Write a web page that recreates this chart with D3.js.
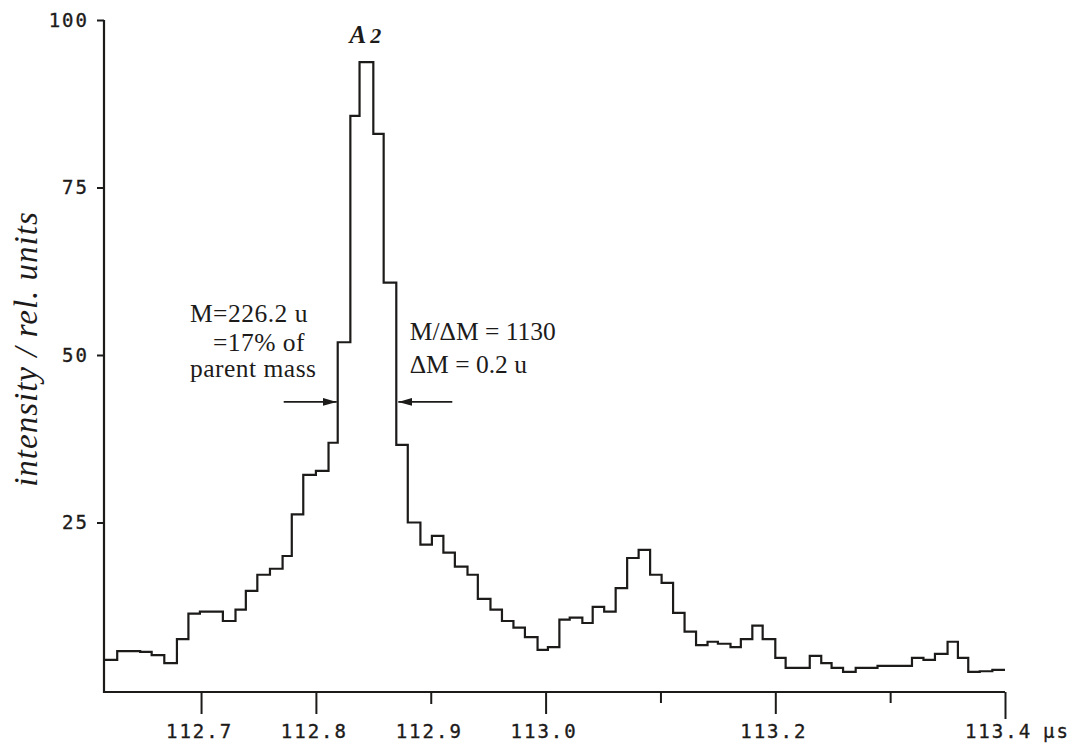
<!DOCTYPE html>
<html><head><meta charset="utf-8">
<script src="https://cdn.jsdelivr.net/npm/d3@7"></script>
<style>
html,body{margin:0;padding:0;background:#fff;}
svg{display:block;}
</style></head><body>
<svg id="chart" width="1073" height="745"></svg>
<script>
// Start time of each time-of-flight channel (µs); the last entry closes the final channel
const channelTimes = [
  112.616, 112.627, 112.636, 112.647, 112.657, 112.668, 112.679, 112.689, 112.699, 112.710,
  112.719, 112.730, 112.739, 112.749, 112.760, 112.771, 112.779, 112.789, 112.800, 112.811,
  112.819, 112.830, 112.838, 112.850, 112.859, 112.870, 112.880, 112.891, 112.901, 112.911,
  112.921, 112.932, 112.941, 112.952, 112.962, 112.972, 112.982, 112.993, 113.002, 113.012,
  113.021, 113.032, 113.041, 113.051, 113.061, 113.071, 113.081, 113.091, 113.101, 113.111,
  113.121, 113.131, 113.141, 113.150, 113.161, 113.170, 113.180, 113.189, 113.200, 113.209,
  113.220, 113.230, 113.240, 113.249, 113.259, 113.270, 113.279, 113.289, 113.299, 113.309,
  113.319, 113.329, 113.339, 113.350, 113.359, 113.368, 113.378, 113.389, 113.400
];
// Intensity per channel (rel. units)
const intensity = [
  4.5, 5.8, 5.8, 5.7, 5.2, 4.0, 7.6, 11.4, 11.7, 11.7,
  10.3, 12.0, 14.8, 17.2, 18.1, 20.0, 26.2, 32.1, 32.7, 36.9,
  51.9, 85.7, 93.7, 83.0, 60.8, 36.6, 25.0, 21.7, 23.0, 20.5,
  18.4, 17.2, 13.6, 12.0, 10.3, 9.3, 7.9, 6.0, 6.4, 10.5,
  10.8, 10.0, 12.4, 11.7, 15.2, 19.7, 20.9, 17.2, 16.0, 11.5,
  8.7, 6.7, 7.2, 6.9, 6.4, 7.6, 9.6, 7.6, 4.8, 3.3,
  3.3, 5.1, 4.0, 3.3, 2.7, 3.3, 3.3, 3.6, 3.6, 3.6,
  4.8, 4.5, 5.4, 7.2, 4.8, 2.7, 2.8, 3.0
];
const xDomain = [112.6155, 113.4];
const xTicks = [112.7, 112.8, 112.9, 113.0, 113.1, 113.2, 113.3, 113.4];
const xTickLabels = ["112.7", "112.8", "112.9", "113.0", "", "113.2", "", "113.4"];
const xTickLength = [22, 22, 12, 22, 11, 22, 11, 27];
const xUnit = "µs";
const yTicks = [25, 50, 75, 100];
const yTitle = "intensity / rel. units";
const peakName = ["A", "2"];
const leftNote = ["M=226.2 u", "=17% of", "parent mass"];
const rightNote = ["M/ΔM = 1130", "ΔM = 0.2 u"];

const ink = "#1d1b1a";
const monoFont = "'DejaVu Sans Mono', 'Liberation Mono', monospace";
const svg = d3.select("#chart");
svg.append("rect").attr("width", 1073).attr("height", 745).attr("fill", "#fff");

const x = d3.scaleLinear().domain(xDomain).range([104, 1005]);
const y = d3.scaleLinear().domain([0, 100]).range([690, 20]);
const axisY = 692;

// plotter-style tick lettering
const tickText = sel => sel.attr("fill", ink).attr("stroke", ink).attr("stroke-width", 0.35)
  .style("font-family", monoFont).style("font-size", "19px").style("letter-spacing", "2px");

// channel steps
const pts = intensity.map((v, i) => ({t: channelTimes[i], v}));
pts.push({t: channelTimes[intensity.length], v: intensity[intensity.length - 1]});
const line = d3.line().x(d => x(d.t)).y(d => y(d.v)).curve(d3.curveStepAfter);
svg.append("path").datum(pts).attr("d", line)
  .attr("fill", "none").attr("stroke", ink).attr("stroke-width", 2.2)
  .attr("stroke-linejoin", "miter");

// x axis
const xa = svg.append("g").attr("transform", `translate(0,${axisY})`)
  .call(d3.axisBottom(x).tickValues(xTicks).tickSizeOuter(0)
    .tickFormat((d, i) => xTickLabels[i]));
xa.select(".domain").attr("stroke", ink).attr("stroke-width", 2.2)
  .attr("d", `M${x.range()[0]},0H${x.range()[1]}`);
xa.selectAll(".tick line").attr("stroke", ink).attr("stroke-width", 2)
  .attr("y2", (d, i) => xTickLength[i]);
xa.selectAll(".tick text")
  .attr("y", 46).attr("dy", null).attr("dx", (d, i) => i === xTicks.length - 1 ? -7 : -2)
  .call(tickText);
svg.append("text").attr("x", x(113.4) + 38).attr("y", axisY + 46)
  .call(tickText).text(xUnit);

// y axis
const ya = svg.append("g").attr("transform", `translate(104,0)`)
  .call(d3.axisLeft(y).tickValues(yTicks).tickSize(7).tickPadding(8).tickSizeOuter(0));
ya.select(".domain").attr("stroke", ink).attr("stroke-width", 2.2)
  .attr("d", `M0,${y(100)}V${axisY + 1}`);
ya.selectAll(".tick line").attr("stroke", ink).attr("stroke-width", 2);
ya.selectAll(".tick text").call(tickText);

svg.append("text")
  .attr("transform", `translate(37,${349}) rotate(-90)`)
  .attr("text-anchor", "middle").attr("fill", ink)
  .style("font-family", "'Liberation Serif', serif").style("font-style", "italic")
  .style("font-size", "33px").style("letter-spacing", "1px")
  .text(yTitle);

// peak name above the main channel
const peakT = (channelTimes[22] + channelTimes[23]) / 2;
const pk = svg.append("text").attr("x", x(peakT) - 1).attr("y", y(96.6))
  .attr("text-anchor", "middle").attr("fill", ink)
  .style("font-family", "'Liberation Serif', serif").style("font-style", "italic")
  .style("font-weight", "bold").style("font-size", "25px");
pk.append("tspan").text(peakName[0]);
pk.append("tspan").attr("dx", 4).style("font-size", "22px").text(peakName[1]);

// resolution annotations
const noteFont = sel => sel.attr("fill", ink)
  .style("font-family", "'Liberation Serif', serif").style("font-size", "25.5px")
  .style("letter-spacing", "0.5px");
const leftPos = [[112.6903, 54.9], [112.7103, 50.6], [112.6903, 46.7]];
leftNote.forEach((s, i) => {
  svg.append("text").attr("x", x(leftPos[i][0])).attr("y", y(leftPos[i][1])).call(noteFont).text(s);
});
const rightPos = [[112.8817, 52.2], [112.8817, 47.3]];
rightNote.forEach((s, i) => {
  svg.append("text").attr("x", x(rightPos[i][0])).attr("y", y(rightPos[i][1])).call(noteFont)
    .style("letter-spacing", "0px").text(s);
});

// FWHM arrows pointing at the peak flanks
const defs = svg.append("defs");
defs.append("marker").attr("id", "head").attr("viewBox", "0 0 14 8")
  .attr("refX", 14).attr("refY", 4).attr("markerWidth", 14).attr("markerHeight", 8)
  .attr("markerUnits", "userSpaceOnUse").attr("orient", "auto")
  .append("path").attr("d", "M0,0L14,4L0,8Z").attr("fill", ink);
const arrowV = 43;
const leftTip = channelTimes[20];
const rightTip = channelTimes[25];
svg.append("line").attr("x1", x(leftTip) - 54).attr("x2", x(leftTip) - 1)
  .attr("y1", y(arrowV)).attr("y2", y(arrowV))
  .attr("stroke", ink).attr("stroke-width", 1.8).attr("marker-end", "url(#head)");
svg.append("line").attr("x1", x(rightTip) + 56).attr("x2", x(rightTip) + 2)
  .attr("y1", y(arrowV)).attr("y2", y(arrowV))
  .attr("stroke", ink).attr("stroke-width", 1.8).attr("marker-end", "url(#head)");
</script>
</body></html>
